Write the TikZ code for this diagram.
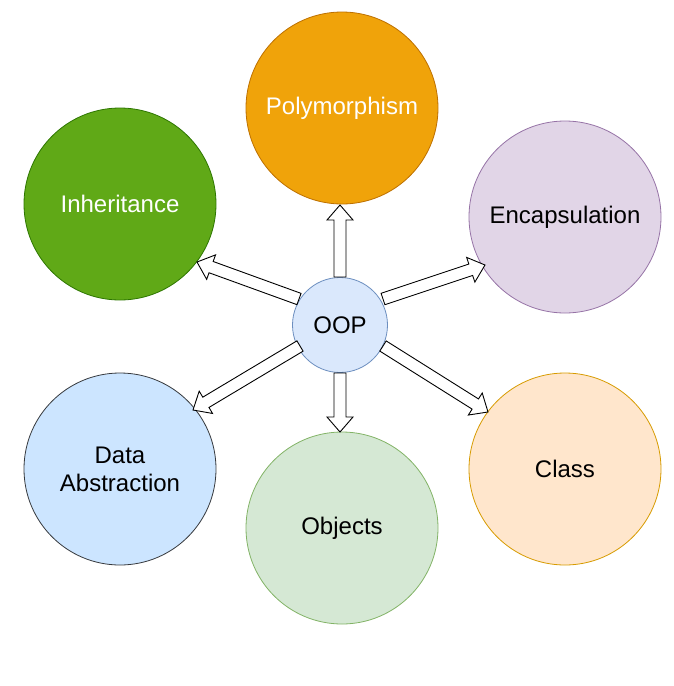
\documentclass[tikz,border=0pt]{standalone}
\usepackage{fontspec}
\setmainfont{Liberation Sans}
\usetikzlibrary{calc}
\definecolor{polyF}{HTML}{F0A30A}\definecolor{polyD}{HTML}{BD7000}
\definecolor{inhF}{HTML}{60A917}\definecolor{inhD}{HTML}{2D7600}
\definecolor{encF}{HTML}{E1D5E7}\definecolor{encD}{HTML}{9673A6}
\definecolor{oopF}{HTML}{DAE8FC}\definecolor{oopD}{HTML}{6C8EBF}
\definecolor{daF}{HTML}{CCE5FF}\definecolor{daD}{HTML}{36393D}
\definecolor{objF}{HTML}{D5E8D4}\definecolor{objD}{HTML}{82B366}
\definecolor{clsF}{HTML}{FFE6CC}\definecolor{clsD}{HTML}{D79B00}
\tikzset{big/.style={circle,minimum size=192pt,inner sep=0pt,align=center,font=\fontsize{24}{28}\selectfont,line width=0.8pt},
arrowshape/.style={draw=black,fill=white,line width=0.9pt,line join=miter}}
\newcommand\flexarr[2]{%
\path let \p1=(#1),\p2=(#2),\n1={atan2(\y2-\y1,\x2-\x1)},\n2={veclen(\x2-\x1,\y2-\y1)} in
 [draw=black,fill=white,line width=0.9pt,shift={(\p1)},rotate=\n1]
 (0pt,-6pt) -- (\n2-15pt,-6pt) -- (\n2-15pt,-13pt) -- (\n2,0pt) -- (\n2-15pt,13pt) -- (\n2-15pt,6pt) -- (0pt,6pt) -- cycle;}
\begin{document}
\begin{tikzpicture}[x=1pt,y=-1pt]
\useasboundingbox (0,0) rectangle (674,686);
\node[big,fill=polyF,draw=polyD,text=white] (poly) at (342,108) {Polymorphism};
\node[big,fill=inhF,draw=inhD,text=white] (inh) at (120,204) {Inheritance};
\node[big,fill=encF,draw=encD] (enc) at (565,217) {Encapsulation};
\node[big,fill=daF,draw=daD] (da) at (120,469) {Data\\Abstraction};
\node[big,fill=objF,draw=objD] (obj) at (342,528) {Objects};
\node[big,fill=clsF,draw=clsD] (cls) at (565,469) {Class};
\node[circle,minimum size=95pt,inner sep=0pt,fill=oopF,draw=oopD,line width=0.8pt,font=\fontsize{24}{28}\selectfont] (oop) at (340,325) {OOP};
\coordinate (s1) at (340,277); \coordinate (t1) at (340,205);
\coordinate (s2) at (299,299); \coordinate (t2) at (197,262);
\coordinate (s3) at (383,299); \coordinate (t3) at (485,265);
\coordinate (s4) at (300,346); \coordinate (t4) at (193,410);
\coordinate (s5) at (340,373); \coordinate (t5) at (340,432);
\coordinate (s6) at (383,346); \coordinate (t6) at (488,412);
\flexarr{s1}{t1}\flexarr{s2}{t2}\flexarr{s3}{t3}
\flexarr{s4}{t4}\flexarr{s5}{t5}\flexarr{s6}{t6}
\end{tikzpicture}
\end{document}
